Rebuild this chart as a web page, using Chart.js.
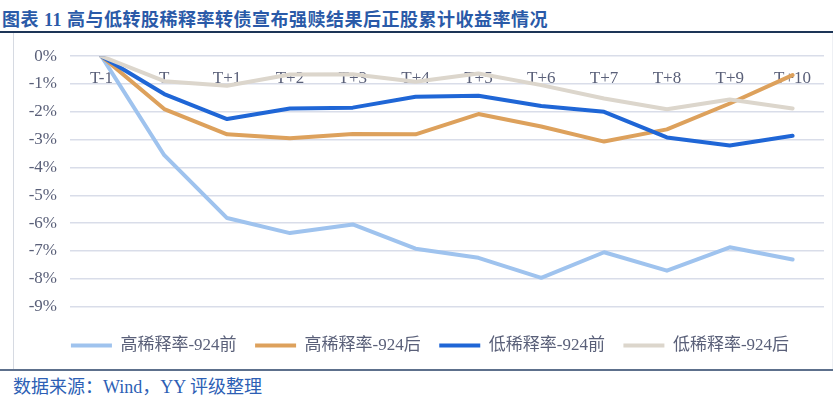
<!DOCTYPE html>
<html>
<head>
<meta charset="utf-8">
<script src="https://cdn.jsdelivr.net/npm/chart.js@4"></script>
<style>
  html, body { margin: 0; padding: 0; background: #ffffff; }
  body { width: 837px; height: 399px; position: relative; overflow: hidden; }
  #title { position: absolute; left: 2px; top: 5px; font: bold 18px 'Liberation Serif', 'Noto Sans CJK SC', serif; color: #2a5aa8; white-space: nowrap; letter-spacing: 0.5px; }
  #titleLine { position: absolute; left: 0; top: 31px; width: 833px; height: 1.5px; background: #1d3557; }
  #box { position: absolute; left: 13px; top: 33px; width: 818px; height: 336px; border-left: 1px solid #d6dae2; border-right: 1px solid #eef0f4; }
  #wrap { position: absolute; left: 13px; top: 33px; width: 820px; height: 331px; }
  #bottomLine { position: absolute; left: 0; top: 369px; width: 833px; height: 1.5px; background: #5d708c; }
  #source { position: absolute; left: 13px; top: 372px; font: 18px 'Liberation Serif', 'Noto Sans CJK SC', serif; color: #2d5fb5; white-space: nowrap; }
</style>
</head>
<body>
<div id="title">图表 11 高与低转股稀释率转债宣布强赎结果后正股累计收益率情况</div>
<div id="titleLine"></div>
<div id="box"></div>
<div id="wrap"><canvas id="c" width="820" height="331"></canvas></div>
<div id="bottomLine"></div>
<div id="source">数据来源：Wind，YY 评级整理</div>
<script>
const categories = ['T-1', 'T', 'T+1', 'T+2', 'T+3', 'T+4', 'T+5', 'T+6', 'T+7', 'T+8', 'T+9', 'T+10'];
const seriesNames = ['高稀释率-924前', '高稀释率-924后', '低稀释率-924前', '低稀释率-924后'];
const highBefore = [0, -3.56, -5.82, -6.36, -6.05, -6.92, -7.25, -7.97, -7.05, -7.71, -6.87, -7.31];
const highAfter  = [0, -1.90, -2.81, -2.95, -2.80, -2.81, -2.08, -2.53, -3.07, -2.63, -1.70, -0.68];
const lowBefore  = [0, -1.36, -2.26, -1.88, -1.85, -1.46, -1.42, -1.79, -2.00, -2.92, -3.21, -2.86];
const lowAfter   = [0, -0.90, -1.06, -0.66, -0.65, -0.92, -0.62, -1.04, -1.52, -1.91, -1.56, -1.88];
const seriesColors = ['#9fc3ee', '#dda15c', '#1f66d6', '#dcd6cc'];

const serif = "'Liberation Serif', 'Noto Sans CJK SC', serif";
const allSeries = [highBefore, highAfter, lowBefore, lowAfter];
const datasets = allSeries.map((d, i) => ({
  label: seriesNames[i],
  data: d,
  borderColor: seriesColors[i],
  backgroundColor: seriesColors[i],
  borderWidth: 4,
  pointRadius: 0,
  pointHoverRadius: 0,
  tension: 0,
  fill: false,
  borderCapStyle: 'round',
  borderJoinStyle: 'round',
  order: 3 - i
}));

const shiftLegend = {
  id: 'shiftLegend',
  afterLayout(chart) {
    const lg = chart.legend;
    if (lg) { lg.left += 11.5; lg.right += 11.5; }
  }
};

new Chart(document.getElementById('c'), {
  type: 'line',
  data: { labels: categories, datasets },
  plugins: [shiftLegend],
  options: {
    responsive: false,
    animation: false,
    layout: { padding: { top: 21, right: 9, left: 0, bottom: 0 } },
    plugins: {
      tooltip: { enabled: false },
      legend: {
        position: 'bottom',
        title: { display: true, text: '', font: { size: 1, lineHeight: 1 }, padding: { top: 11, bottom: 0 } },
        labels: {
          boxWidth: 41,
          boxHeight: 4,
          padding: 18.5,
          color: '#5a6079',
          font: { family: serif, size: 17 },
          sort: (a, b) => a.datasetIndex - b.datasetIndex,
          generateLabels: (chart) => Chart.defaults.plugins.legend.labels.generateLabels(chart).map(it => {
            it.fillStyle = it.strokeStyle;
            it.lineWidth = 0;
            return it;
          })
        }
      }
    },
    scales: {
      x: {
        type: 'category',
        position: { y: 0 },
        offset: true,
        grid: { display: false, drawTicks: false },
        border: { display: false },
        ticks: { color: '#5a6079', font: { family: serif, size: 17 }, padding: 12, maxRotation: 0, autoSkip: false }
      },
      y: {
        min: -9,
        max: 0,
        afterFit: (s) => { s.width = 57; },
        grid: { color: '#d9dde9', lineWidth: 1.5, drawTicks: false },
        border: { display: false },
        ticks: {
          stepSize: 1,
          color: '#5a6079',
          font: { family: serif, size: 17 },
          padding: 13,
          callback: (v) => Math.round(v) + '%'
        }
      }
    }
  }
});
</script>
</body>
</html>
